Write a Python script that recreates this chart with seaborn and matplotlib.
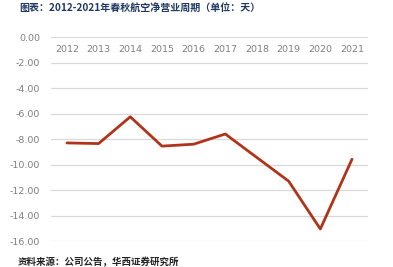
import matplotlib
matplotlib.use("Agg")
import matplotlib.pyplot as plt
import seaborn as sns
import pandas as pd

years = ["2012", "2013", "2014", "2015", "2016", "2017", "2018", "2019", "2020", "2021"]
values = [-8.30, -8.35, -6.25, -8.55, -8.40, -7.60, -9.45, -11.30, -15.05, -9.58]
yticks = [0, -2, -4, -6, -8, -10, -12, -14, -16]

title = "图表：2012-2021年春秋航空净营业周期（单位：天）"
source = "资料来源：公司公告，华西证券研究所"

sns.set_style("white")
plt.rcParams['font.family'] = ['Noto Sans CJK SC', 'DejaVu Sans']

df = pd.DataFrame({"year": years, "value": values})

fig = plt.figure(figsize=(3.93, 2.67), dpi=100)
ax = fig.add_axes([0.13, 0.097, 0.806, 0.764])

sns.lineplot(data=df, x="year", y="value", ax=ax, color="#B0341A", linewidth=2.0, sort=False)

ax.set_ylim(-16, 0)
ax.set_xlim(-0.5, len(years) - 0.5)
ax.set_yticks(yticks)
ax.set_yticklabels([f"{v:.2f}" for v in yticks], fontsize=6.8, color="#7F7F7F", family="DejaVu Sans")
for y in yticks:
    ax.axhline(y, color="#D9D9D9", linewidth=0.9, zorder=0)

ax.xaxis.tick_top()
ax.tick_params(axis="x", top=False, bottom=False, labeltop=True, labelbottom=False, pad=-12, length=0,
               labelsize=6.8, labelcolor="#7F7F7F")
ax.tick_params(axis="y", length=0, pad=8)
for lbl in ax.get_xticklabels():
    lbl.set_family("DejaVu Sans")
ax.set_xlabel("")
ax.set_ylabel("")
for s in ax.spines.values():
    s.set_visible(False)

fig.text(0.048, 0.965, title, fontsize=7.2, fontweight="bold", color="#1F3864", va="center", ha="left")
fig.text(0.045, 0.018, source, fontsize=6.8, fontweight="bold", color="#222222", va="center", ha="left")

fig.savefig("out.png", dpi=100)
